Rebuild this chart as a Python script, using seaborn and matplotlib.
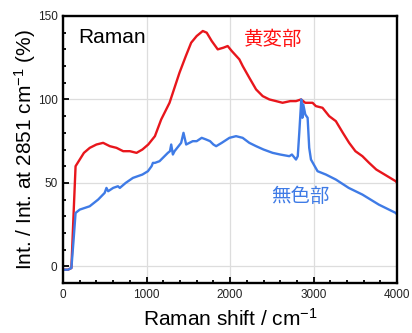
import numpy as np
import pandas as pd
import seaborn as sns
from matplotlib import pyplot as plt
from matplotlib.ticker import MultipleLocator

# Data
shift_yellow = [0, 60, 100, 125, 150, 200, 250, 320, 400, 480, 560, 640, 720, 800, 880, 950,
                1020, 1100, 1175, 1275, 1394, 1470, 1534, 1600, 1673, 1720, 1780, 1852, 1920,
                1971, 2020, 2111, 2151, 2230, 2311, 2390, 2470, 2550, 2628, 2720, 2789, 2849,
                2900, 2987, 3027, 3106, 3186, 3266, 3350, 3425, 3500, 3584, 3664, 3750, 3850,
                3983, 4000]
int_yellow = [-2, -2, -1, 30, 60, 64, 68, 71, 73, 74, 72, 71, 69, 69, 68, 70,
              73, 78, 88, 98, 116, 126, 134, 138, 141, 140, 135, 130, 131,
              132, 129, 124, 120, 113, 106, 102, 100, 99, 98, 99, 99, 100,
              98, 98, 96, 95, 90, 87, 80, 74, 69, 66, 62, 58, 55,
              51, 50]

shift_clear = [0, 60, 100, 125, 150, 200, 319, 420, 498, 520, 540, 600, 657, 680, 750, 837,
               950, 1016, 1060, 1076, 1100, 1155, 1195, 1255, 1280, 1295, 1315, 1335, 1414,
               1442, 1474, 1553, 1600, 1660, 1713, 1760, 1800, 1833, 1900, 1992, 2071, 2150,
               2230, 2311, 2400, 2509, 2600, 2709, 2740, 2789, 2810, 2828, 2852, 2865, 2876,
               2900, 2928, 2947, 2968, 3047, 3147, 3266, 3420, 3584, 3780, 3983, 4000]
int_clear = [-2, -2, -1, 15, 32, 34, 36, 40, 44, 47, 45, 47, 48, 47, 50, 53,
             55, 57, 60, 62, 62, 63, 65, 68, 69, 73, 67, 69, 74,
             80, 73, 75, 75, 77, 76, 75, 73, 72, 74, 77, 78, 77,
             74, 72, 70, 68, 67, 66, 67, 64, 66, 80, 100, 89, 97,
             91, 89, 71, 64, 57, 55, 52, 47, 43, 37, 32, 31]

label_yellow = "黄変部"
label_clear = "無色部"

df_y = pd.DataFrame({"shift": shift_yellow, "int": int_yellow})
df_c = pd.DataFrame({"shift": shift_clear, "int": int_clear})

sns.set_style("ticks", {"xtick.direction": "in", "ytick.direction": "in"})
plt.rcParams['font.family'] = ['Liberation Sans', 'DejaVu Sans']
plt.rcParams['mathtext.fontset'] = 'custom'
plt.rcParams['mathtext.rm'] = 'Liberation Sans'
plt.rcParams['mathtext.it'] = 'Liberation Sans'

red = "#e8161c"
blue = "#3f7be6"

fig = plt.figure(figsize=(4.12, 3.33), dpi=100)
ax = fig.add_axes([0.153, 0.150, 0.811, 0.802])

sns.lineplot(data=df_y, x="shift", y="int", color=red, lw=1.7, ax=ax)
sns.lineplot(data=df_c, x="shift", y="int", color=blue, lw=1.7, ax=ax)

ax.set_xlim(0, 4000)
ax.set_ylim(-10, 150)
ax.xaxis.set_major_locator(MultipleLocator(1000))
ax.xaxis.set_minor_locator(MultipleLocator(200))
ax.yaxis.set_major_locator(MultipleLocator(50))
ax.yaxis.set_minor_locator(MultipleLocator(10))
ax.grid(True, which='major', color='#dddddd', lw=0.9)
ax.tick_params(which='both', direction='in', bottom=True, left=True, top=False, right=False,
               labelsize=8.5, width=1.3, color='black', labelcolor='#222222', pad=4)
ax.tick_params(which='major', length=4.5)
ax.tick_params(which='minor', length=2.5)
for s in ax.spines.values():
    s.set_visible(True)
    s.set_color('black')
    s.set_linewidth(1.7)

ax.set_xlabel("Raman shift / cm$^{\\mathregular{-1}}$", fontsize=15, labelpad=5, color='black')
ax.set_ylabel("Int. / Int. at 2851 cm$^{\\mathregular{-1}}$ (%)", fontsize=15, labelpad=0,
              color='black')

ax.text(188, 137, "Raman", fontsize=15, ha='left', va='center', color='black')
ax.text(2517, 136, label_yellow, color="#ff1010", fontsize=14, ha='center', va='center',
        family=['Noto Sans CJK JP'])
ax.text(2848, 42, label_clear, color=blue, fontsize=14, ha='center', va='center',
        family=['Noto Sans CJK JP'])

fig.savefig("out.png", dpi=100)
